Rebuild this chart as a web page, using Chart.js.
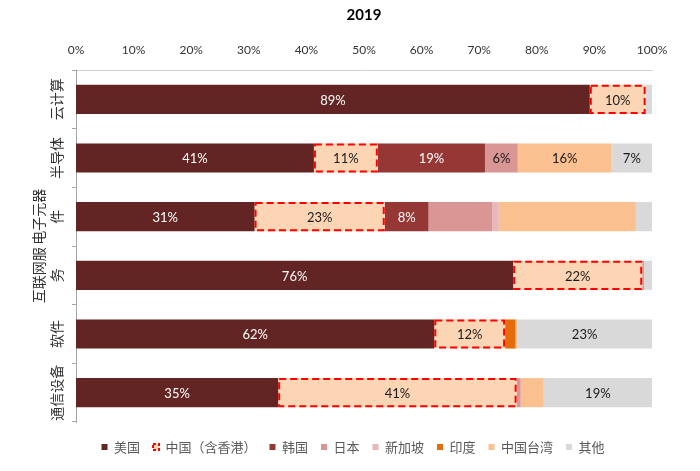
<!DOCTYPE html>
<html>
<head>
<meta charset="utf-8">
<script src="https://cdn.jsdelivr.net/npm/chart.js@4.4.0/dist/chart.umd.min.js"></script>
<style>
  html, body { margin: 0; padding: 0; background: #fff; }
  #wrap { width: 700px; height: 471px; }
</style>
</head>
<body>
<div id="wrap"><canvas id="myChart"></canvas></div>
<script>
// Data (shares in %)
const categories = [['云计算'], ['半导体'], ['电子元器', '件'], ['互联网服', '务'], ['软件'], ['通信设备']];
const seriesNames = ['美国', '中国（含香港）', '韩国', '日本', '新加坡', '印度', '中国台湾', '其他'];
const usa = [89.2, 41.3, 31.0, 75.9, 62.2, 35.1];
const china = [9.7, 11.1, 22.6, 22.4, 12.3, 41.4];
const korea = [0, 18.6, 7.6, 0, 0, 0];
const japan = [0, 5.7, 11.1, 0.3, 0, 0.7];
const singapore = [0, 0, 1.1, 0, 0, 0];
const india = [0, 0, 0, 0, 1.8, 0];
const taiwan = [0, 16.3, 23.8, 0, 0.3, 4.0];
const others = [1.1, 7.0, 2.8, 1.4, 23.4, 18.8];
// labels not printed in the original: [series, row]
const hiddenLabels = [[3, 2], [6, 2]];

const colors = ['#632523', '#fcd5b5', '#953735', '#d99694', '#e6b9b8', '#e46c0a', '#fac090', '#d9d9d9'];
const seriesValues = [usa, china, korea, japan, singapore, india, taiwan, others];

const cjk = '"Noto Sans CJK SC", sans-serif';
const latin = 'Lato, "Noto Sans", sans-serif';

// draws the dashed box round 中国, the value labels and the rotated category names
const barLabels = {
  id: 'barLabels',
  afterDatasetsDraw(chart) {
    const ctx = chart.ctx;
    ctx.save();

    ctx.strokeStyle = '#ff0000';
    ctx.lineWidth = 2;
    ctx.setLineDash([7, 4]);
    chart.getDatasetMeta(1).data.forEach(bar => {
      const p = bar.getProps(['x', 'y', 'base', 'height'], true);
      ctx.strokeRect(p.base + 1, p.y - p.height / 2 + 1, p.x - p.base - 2, p.height - 2);
    });
    ctx.setLineDash([]);

    ctx.font = '13px ' + latin;
    ctx.textAlign = 'center';
    ctx.textBaseline = 'middle';
    chart.data.datasets.forEach((ds, i) => {
      chart.getDatasetMeta(i).data.forEach((bar, j) => {
        const v = ds.data[j];
        if (v < 5) return;
        if (hiddenLabels.some(h => h[0] === i && h[1] === j)) return;
        const p = bar.getProps(['x', 'y', 'base'], true);
        ctx.fillStyle = (i === 0 || i === 2) ? '#ffffff' : '#1a1a1a';
        ctx.fillText(Math.round(v) + '%', (p.x + p.base) / 2, p.y + 1);
      });
    });

    const yScale = chart.scales.y;
    ctx.font = '14px ' + cjk;
    ctx.fillStyle = '#333333';
    categories.forEach((lines, j) => {
      const cy = yScale.getPixelForValue(j);
      lines.forEach((line, k) => {
        const cx = chart.chartArea.left - 19 - (lines.length - 1 - k) * 18;
        ctx.save();
        ctx.translate(cx, cy);
        ctx.rotate(-Math.PI / 2);
        ctx.fillText(line, 0, 0);
        ctx.restore();
      });
    });
    ctx.restore();
  }
};

const ctx = document.getElementById('myChart').getContext('2d');
const myChart = new Chart(ctx, {
  type: 'bar',
  data: {
    labels: categories.map(c => c.join('')),
    datasets: seriesNames.map((name, i) => ({
      label: name,
      data: seriesValues[i],
      backgroundColor: colors[i],
      borderWidth: 0,
      categoryPercentage: 0.8,
      barPercentage: 0.62
    }))
  },
  options: {
    indexAxis: 'y',
    responsive: true,
    maintainAspectRatio: false,
    animation: false,
    layout: { padding: { left: 54, right: 48, top: 0, bottom: 7.5 } },
    scales: {
      x: {
        stacked: true,
        position: 'top',
        min: 0,
        max: 100,
        ticks: {
          stepSize: 10,
          padding: 13,
          color: '#333333',
          font: { size: 12, family: latin },
          callback: v => v + '%'
        },
        grid: { display: false, drawTicks: false },
        border: { color: '#d0d0d0' },
        afterFit: s => { s.height = 42; }
      },
      // empty strip under the bars, keeps the legend a little lower
      gap: {
        type: 'linear',
        position: 'bottom',
        display: true,
        ticks: { display: false },
        grid: { display: false, drawTicks: false },
        border: { display: false },
        afterFit: s => { s.height = 5.5; }
      },
      y: {
        stacked: true,
        ticks: { display: false },
        grid: { drawOnChartArea: false, drawTicks: true, tickLength: 4, color: '#a6a6a6' },
        border: { color: '#a6a6a6' },
        afterFit: s => { s.width = 22; }
      }
    },
    plugins: {
      title: {
        display: true,
        fullSize: false,
        text: '2019',
        color: '#000000',
        font: { size: 15, weight: 'bold', family: latin },
        padding: { top: 6, bottom: 4 }
      },
      legend: {
        position: 'bottom',
        labels: {
          boxWidth: 6,
          boxHeight: 6,
          padding: 13,
          color: '#595959',
          font: { size: 13, family: cjk },
          generateLabels(chart) {
            const items = Chart.defaults.plugins.legend.labels.generateLabels(chart);
            items[1].strokeStyle = '#ff0000';
            items[1].lineWidth = 2;
            items[1].lineDash = [3, 2];
            return items;
          }
        }
      },
      tooltip: { enabled: false }
    }
  },
  plugins: [barLabels]
});
</script>
</body>
</html>
